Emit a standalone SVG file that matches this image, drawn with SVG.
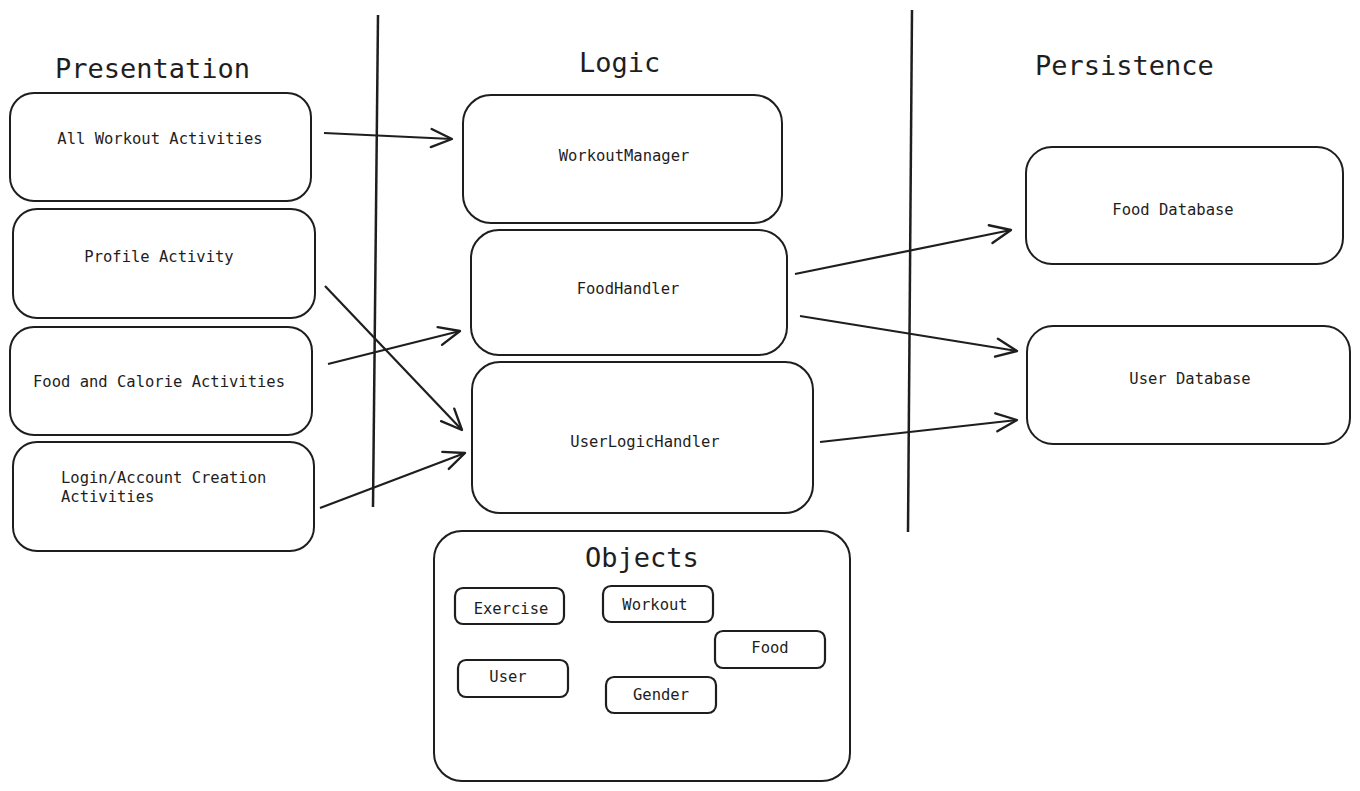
<svg xmlns="http://www.w3.org/2000/svg" width="1360" height="791" viewBox="0 0 1360 791">
<defs>
<style>
.box{fill:none;stroke:#1e1e1e;stroke-width:2;}
.obj{fill:none;stroke:#1e1e1e;stroke-width:2.2;}
.t{font-family:"DejaVu Sans Mono","Liberation Mono",monospace;font-size:15.5px;fill:#1e1e1e;dominant-baseline:central;}
.h{font-family:"DejaVu Sans Mono","Liberation Mono",monospace;font-size:27px;fill:#1e1e1e;dominant-baseline:central;}
.c{text-anchor:middle;}
.sep{stroke:#1e1e1e;stroke-width:2.5;fill:none;}
.arr{stroke:#1e1e1e;stroke-width:2.2;fill:none;marker-end:url(#ah);}
</style>
<marker id="ah" viewBox="0 0 20 20" refX="18" refY="10" markerWidth="26" markerHeight="26" markerUnits="userSpaceOnUse" orient="auto">
<path d="M2,3 L18,10 L2,17" fill="none" stroke="#1e1e1e" stroke-width="1.8" stroke-linecap="round" stroke-linejoin="round"/>
</marker>
</defs>
<rect width="1360" height="791" fill="#ffffff"/>

<g id="titles">
<text class="h" x="55" y="68">Presentation</text>
<text class="h" x="579" y="62">Logic</text>
<text class="h" x="1035" y="65">Persistence</text>
</g>

<g id="separators">
<line class="sep" x1="378" y1="15" x2="373" y2="507"/>
<line class="sep" x1="912" y1="10" x2="908" y2="532"/>
</g>

<g id="all-workout">
<rect class="box" x="10" y="93" width="301" height="108" rx="24"/>
<text class="t c" x="160" y="139">All Workout Activities</text>
</g>
<g id="profile">
<rect class="box" x="13" y="209" width="302" height="109" rx="24"/>
<text class="t c" x="159" y="257">Profile Activity</text>
</g>
<g id="food-calorie">
<rect class="box" x="10" y="327" width="302" height="108" rx="24"/>
<text class="t c" x="159" y="382">Food and Calorie Activities</text>
</g>
<g id="login">
<rect class="box" x="13" y="442" width="301" height="109" rx="24"/>
<text class="t" x="61" y="478">Login/Account Creation</text>
<text class="t" x="61" y="497">Activities</text>
</g>

<g id="workout-manager">
<rect class="box" x="463" y="95" width="319" height="128" rx="28"/>
<text class="t c" x="624" y="156">WorkoutManager</text>
</g>
<g id="food-handler">
<rect class="box" x="471" y="230" width="316" height="125" rx="28"/>
<text class="t c" x="628" y="289">FoodHandler</text>
</g>
<g id="user-logic-handler">
<rect class="box" x="472" y="362" width="341" height="151" rx="28"/>
<text class="t c" x="645" y="442">UserLogicHandler</text>
</g>

<g id="food-database">
<rect class="box" x="1026" y="147" width="317" height="117" rx="26"/>
<text class="t c" x="1173" y="210">Food Database</text>
</g>
<g id="user-database">
<rect class="box" x="1027" y="326" width="323" height="118" rx="26"/>
<text class="t c" x="1190" y="379">User Database</text>
</g>

<g id="objects">
<rect class="box" x="434" y="531" width="416" height="250" rx="28"/>
<text class="h" x="585" y="557">Objects</text>
<g id="obj-exercise">
<rect class="obj" x="455" y="588" width="109" height="36" rx="8"/>
<text class="t c" x="511" y="609">Exercise</text>
</g>
<g id="obj-workout">
<rect class="obj" x="603" y="586" width="110" height="36" rx="8"/>
<text class="t c" x="655" y="605">Workout</text>
</g>
<g id="obj-food">
<rect class="obj" x="715" y="631" width="110" height="37" rx="8"/>
<text class="t c" x="770" y="648">Food</text>
</g>
<g id="obj-user">
<rect class="obj" x="458" y="660" width="110" height="37" rx="8"/>
<text class="t c" x="508" y="677">User</text>
</g>
<g id="obj-gender">
<rect class="obj" x="606" y="677" width="110" height="36" rx="8"/>
<text class="t c" x="661" y="695">Gender</text>
</g>
</g>

<g id="connectors">
<line class="arr" x1="324" y1="133" x2="452" y2="139"/>
<line class="arr" x1="325" y1="286" x2="462" y2="430"/>
<line class="arr" x1="328" y1="364" x2="460" y2="331"/>
<line class="arr" x1="320" y1="508" x2="465" y2="453"/>
<line class="arr" x1="795" y1="274" x2="1011" y2="230"/>
<line class="arr" x1="800" y1="316" x2="1017" y2="351"/>
<line class="arr" x1="820" y1="442" x2="1017" y2="420"/>
</g>
</svg>
